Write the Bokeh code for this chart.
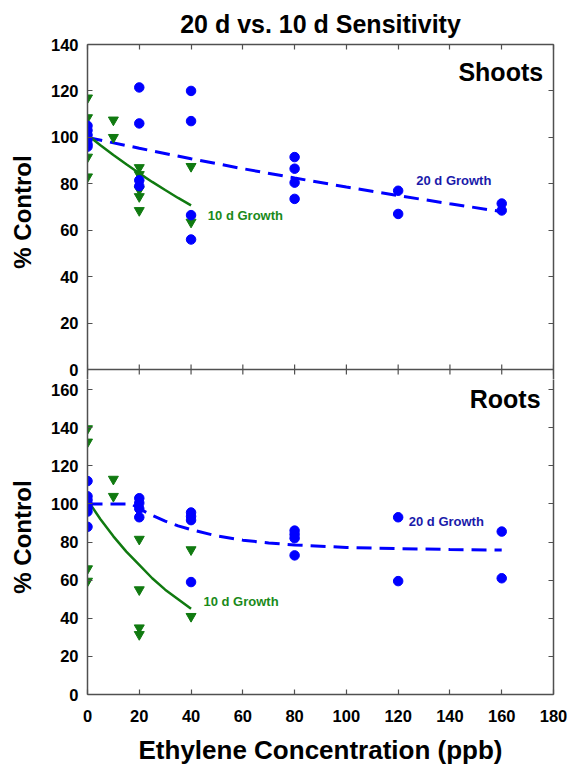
import math
from bokeh.plotting import figure
from bokeh.layouts import column
from bokeh.models import LinearAxis, Range1d, FixedTicker, Label, Span, CustomJSTickFormatter
from bokeh.embed import file_html
from bokeh.resources import INLINE

# ---------------- data ----------------
x_ticks = [0, 20, 40, 60, 80, 100, 120, 140, 160, 180]
shoot_y_ticks = [0, 20, 40, 60, 80, 100, 120, 140]
root_y_ticks = [0, 20, 40, 60, 80, 100, 120, 140, 160]

# Shoots, 20 d growth (blue circles)
shoot20_x = [0, 0, 0, 0, 0, 0, 20, 20, 20, 20, 40, 40, 40, 40, 80, 80, 80, 80, 120, 120, 160, 160]
shoot20_y = [105, 103, 101, 99, 97, 96, 121.5, 106, 81.5, 79, 120, 107, 66.5, 56, 91.5, 86.5, 80.5, 73.5, 77, 67, 71.5, 68.5]
# Shoots, 10 d growth (green triangles)
shoot10_x = [0, 0, 0, 0, 10, 10, 20, 20, 20, 20, 20, 40, 40]
shoot10_y = [117, 108.5, 91.5, 83, 107.5, 100, 87, 84, 77.5, 74.5, 68.5, 87.5, 63.5]
# Shoots fitted curves
shoot20_fit_x = [0, 20, 40, 60, 80, 100, 120, 140, 160]
shoot20_fit_y = [100, 95.3, 90.8, 86.5, 82.5, 78.6, 74.9, 71.4, 68]
shoot10_fit_x = [0, 5, 10, 15, 20, 25, 30, 35, 40]
shoot10_fit_y = [101, 96.6, 92.4, 88.4, 84.5, 80.8, 77.3, 73.9, 70.7]

# Roots, 20 d growth
root20_x = [0, 0, 0, 0, 0, 0, 0, 20, 20, 20, 20, 40, 40, 40, 40, 80, 80, 80, 80, 120, 120, 160, 160]
root20_y = [112, 104, 102, 100, 98, 96, 88, 103, 100.5, 97.5, 93, 95.5, 93.5, 91.5, 59, 86, 84, 82, 73, 93, 59.5, 85.5, 61]
# Roots, 10 d growth
root10_x = [0, 0, 0, 0, 10, 10, 20, 20, 20, 20, 40, 40]
root10_y = [139.5, 132.5, 66, 59.5, 113, 104, 81.5, 55, 35, 31.5, 76, 41]
# Roots fitted curves
root20_fit_x = [0, 10, 17, 20, 25, 30, 35, 40, 50, 60, 70, 80, 100, 120, 140, 160]
root20_fit_y = [100, 100, 100, 97.5, 94, 91, 88.5, 86.5, 83.2, 81, 79.5, 78.5, 77.2, 76.5, 76.1, 75.8]
root10_fit_x = [0, 5, 10, 15, 20, 25, 30, 35, 40]
root10_fit_y = [102, 92, 83, 75, 68, 61, 55, 50, 45]

# ---------------- layout / style ----------------
FONT = "Liberation Sans"
BLUE = "#0000ff"
GREEN = "#107a10"
BLUE_TXT = "#1a1aaa"
GREEN_TXT = "#1a8a1a"
AX = "#505050"

TOP_H = 325      # pixel height of the Shoots panel (0..140)
BOT_H = 325      # pixel span of 0..170 in the Roots panel
TOP_MAX = 140
BOT_MAX = 170
EXT = 10         # the top canvas reaches EXT px below the shared boundary
TICK_FS = "16.5px"

top_range = Range1d(-EXT * TOP_MAX / TOP_H, TOP_MAX)
top_fig_h = 44 + TOP_H + EXT
bot_fig_h = 767 - top_fig_h
bot_frame_h = bot_fig_h - 72
bot_range = Range1d(0, bot_frame_h * BOT_MAX / BOT_H)


def style_axis(ax, ticks, labels=True):
    ax.ticker = FixedTicker(ticks=ticks)
    ax.axis_line_color = AX
    ax.axis_line_width = 1.5
    ax.major_tick_line_color = AX
    ax.major_tick_line_width = 1.2
    ax.major_tick_in = 5
    ax.major_tick_out = 0
    ax.minor_tick_line_color = None
    if labels:
        ax.major_label_text_font = FONT
        ax.major_label_text_font_style = "bold"
        ax.major_label_text_font_size = TICK_FS
        ax.major_label_text_color = "black"
        ax.major_label_standoff = 9
    else:
        ax.formatter = CustomJSTickFormatter(code="return ''")
        ax.major_label_text_font_size = "1px"
        ax.major_label_standoff = 0


def y_title(ax):
    ax.axis_label = "% Control"
    ax.axis_label_text_font = FONT
    ax.axis_label_text_font_style = "bold"
    ax.axis_label_text_font_size = "24px"
    ax.axis_label_text_color = "black"
    ax.axis_label_standoff = 12


def text_label(p, x, y, text, size, color="black", align="center"):
    p.add_layout(Label(x=x, y=y, text=text, text_align=align, text_baseline="middle",
                       text_font=FONT, text_font_style="bold", text_font_size=size, text_color=color))


def base_fig(height, yr, top, bottom, **kw):
    p = figure(width=571, height=height, x_range=Range1d(0, 180), y_range=yr,
               output_backend="svg", toolbar_location=None,
               min_border_left=87, min_border_right=18, min_border_top=top, min_border_bottom=bottom, **kw)
    p.xgrid.visible = False
    p.ygrid.visible = False
    p.outline_line_color = None
    p.border_fill_color = None
    p.background_fill_color = None
    return p


# ---------------- top panel: Shoots ----------------
p1 = base_fig(top_fig_h, top_range, 44, 0, x_axis_location=None)
style_axis(p1.yaxis[0], shoot_y_ticks, True)
y_title(p1.yaxis[0])
r1 = LinearAxis()
style_axis(r1, shoot_y_ticks, False)
p1.add_layout(r1, "right")
a1 = LinearAxis()
style_axis(a1, x_ticks, False)
p1.add_layout(a1, "above")

p1.title.text = "20 d vs. 10 d Sensitivity"
p1.title.text_font = FONT
p1.title.text_font_style = "bold"
p1.title.text_font_size = "25px"
p1.title.text_color = "black"
p1.title.align = "center"
p1.title.standoff = 14

# shared boundary line with inward ticks toward both panels
p1.add_layout(Span(location=0, dimension="width", line_color=AX, line_width=1.5))
p1.scatter(x_ticks, [0] * len(x_ticks), marker="dash", angle=math.pi / 2, size=10,
           line_color=AX, line_width=1.2)

p1.line(shoot20_fit_x, shoot20_fit_y, line_color=BLUE, line_width=3, line_dash="15 8")
p1.line(shoot10_fit_x, shoot10_fit_y, line_color=GREEN, line_width=2.5)
p1.scatter(shoot10_x, shoot10_y, marker="inverted_triangle", size=10, color=GREEN)
p1.scatter(shoot20_x, shoot20_y, marker="circle", size=9.5, color=BLUE)
text_label(p1, 176, 128, "Shoots", "25px", align="right")
text_label(p1, 141.5, 81.4, "20 d Growth", "13px", BLUE_TXT)
text_label(p1, 61, 66.3, "10 d Growth", "13px", GREEN_TXT)

# ---------------- bottom panel: Roots ----------------
p2 = base_fig(bot_fig_h, bot_range, 0, 72)
style_axis(p2.yaxis[0], root_y_ticks, True)
y_title(p2.yaxis[0])
r2 = LinearAxis()
style_axis(r2, root_y_ticks, False)
p2.add_layout(r2, "right")
style_axis(p2.xaxis[0], x_ticks, True)
p2.xaxis[0].major_label_standoff = 15
p2.xaxis[0].axis_label = "Ethylene Concentration (ppb)"
p2.xaxis[0].axis_label_text_font = FONT
p2.xaxis[0].axis_label_text_font_style = "bold"
p2.xaxis[0].axis_label_text_font_size = "26px"
p2.xaxis[0].axis_label_text_color = "black"
p2.xaxis[0].axis_label_standoff = 10

p2.line(root20_fit_x, root20_fit_y, line_color=BLUE, line_width=3, line_dash="15 8")
p2.line(root10_fit_x, root10_fit_y, line_color=GREEN, line_width=2.5)
p2.scatter(root10_x, root10_y, marker="inverted_triangle", size=10, color=GREEN)
p2.scatter(root20_x, root20_y, marker="circle", size=9.5, color=BLUE)
text_label(p2, 175, 154.8, "Roots", "25px", align="right")
text_label(p2, 138.6, 90.6, "20 d Growth", "13px", BLUE_TXT)
text_label(p2, 59.3, 48.8, "10 d Growth", "13px", GREEN_TXT)

layout = column(p1, p2, spacing=0)
open("out.html", "w").write(file_html(layout, INLINE))
